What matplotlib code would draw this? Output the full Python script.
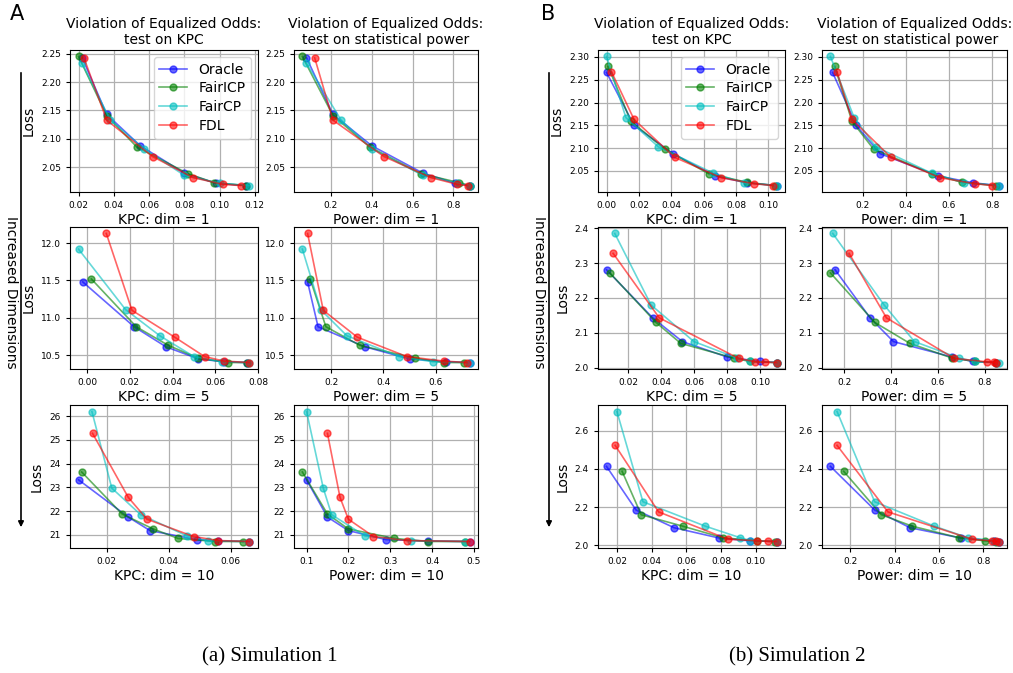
import matplotlib
matplotlib.use("Agg")
import matplotlib.pyplot as plt

METHODS = ["Oracle", "FairICP", "FairCP", "FDL"]
COLORS = {"Oracle": "b", "FairICP": "g", "FairCP": "c", "FDL": "r"}

# ---------------- Simulation 1 ----------------
S1_D1_LOSS = {"Oracle": [2.243, 2.143, 2.088, 2.040, 2.022, 2.018],
              "FairICP": [2.245, 2.141, 2.086, 2.039, 2.023, 2.018],
              "FairCP": [2.233, 2.133, 2.083, 2.036, 2.022, 2.018],
              "FDL": [2.243, 2.133, 2.069, 2.032, 2.020, 2.018]}
S1_D1_KPC = {"Oracle": [0.022, 0.036, 0.055, 0.080, 0.098, 0.115],
             "FairICP": [0.020, 0.036, 0.053, 0.082, 0.097, 0.115],
             "FairCP": [0.022, 0.038, 0.057, 0.080, 0.100, 0.117],
             "FDL": [0.023, 0.036, 0.062, 0.085, 0.102, 0.112]}
S1_D1_POW = {"Oracle": [0.08, 0.21, 0.40, 0.65, 0.81, 0.88],
             "FairICP": [0.06, 0.21, 0.39, 0.64, 0.83, 0.88],
             "FairCP": [0.08, 0.25, 0.40, 0.65, 0.82, 0.88],
             "FDL": [0.12, 0.21, 0.46, 0.69, 0.82, 0.87]}

S1_D5_LOSS = {"Oracle": [11.48, 10.88, 10.61, 10.45, 10.41, 10.40],
              "FairICP": [11.52, 10.88, 10.63, 10.46, 10.40, 10.40],
              "FairCP": [11.92, 11.11, 10.76, 10.48, 10.41, 10.40],
              "FDL": [12.13, 11.10, 10.74, 10.48, 10.42, 10.40]}
S1_D5_KPC = {"Oracle": [-0.002, 0.022, 0.037, 0.052, 0.064, 0.075],
             "FairICP": [0.002, 0.023, 0.038, 0.052, 0.066, 0.075],
             "FairCP": [-0.004, 0.018, 0.034, 0.050, 0.063, 0.076],
             "FDL": [0.009, 0.021, 0.041, 0.055, 0.064, 0.076]}
S1_D5_POW = {"Oracle": [0.11, 0.15, 0.33, 0.50, 0.64, 0.73],
             "FairICP": [0.12, 0.18, 0.31, 0.52, 0.63, 0.71],
             "FairCP": [0.09, 0.16, 0.26, 0.46, 0.59, 0.73],
             "FDL": [0.11, 0.17, 0.30, 0.49, 0.63, 0.72]}

S1_D10_LOSS = {"Oracle": [23.32, 21.75, 21.18, 20.80, 20.74, 20.72],
               "FairICP": [23.65, 21.88, 21.25, 20.85, 20.72, 20.72],
               "FairCP": [26.20, 22.97, 21.85, 20.95, 20.75, 20.72],
               "FDL": [25.28, 22.58, 21.66, 20.93, 20.76, 20.72]}
S1_D10_KPC = {"Oracle": [0.011, 0.027, 0.034, 0.049, 0.056, 0.066],
              "FairICP": [0.012, 0.025, 0.035, 0.043, 0.055, 0.064],
              "FairCP": [0.0153, 0.0217, 0.031, 0.046, 0.0525, 0.066],
              "FDL": [0.0155, 0.027, 0.033, 0.048, 0.056, 0.066]}
S1_D10_POW = {"Oracle": [0.10, 0.15, 0.20, 0.29, 0.39, 0.49],
              "FairICP": [0.09, 0.15, 0.20, 0.31, 0.39, 0.48],
              "FairCP": [0.10, 0.14, 0.16, 0.24, 0.35, 0.48],
              "FDL": [0.15, 0.18, 0.20, 0.26, 0.34, 0.49]}

# ---------------- Simulation 2 ----------------
S2_D1_LOSS = {"Oracle": [2.266, 2.150, 2.088, 2.039, 2.024, 2.018],
              "FairICP": [2.279, 2.159, 2.098, 2.044, 2.025, 2.018],
              "FairCP": [2.301, 2.167, 2.103, 2.045, 2.024, 2.018],
              "FDL": [2.268, 2.163, 2.080, 2.035, 2.022, 2.018]}
S2_D1_KPC = {"Oracle": [0.000, 0.017, 0.041, 0.067, 0.087, 0.105],
             "FairICP": [0.001, 0.015, 0.036, 0.063, 0.087, 0.104],
             "FairCP": [0.000, 0.012, 0.032, 0.066, 0.085, 0.105],
             "FDL": [0.003, 0.017, 0.042, 0.071, 0.091, 0.103]}
S2_D1_POW = {"Oracle": [0.06, 0.17, 0.28, 0.55, 0.71, 0.83],
             "FairICP": [0.07, 0.15, 0.25, 0.52, 0.66, 0.82],
             "FairCP": [0.05, 0.16, 0.26, 0.52, 0.67, 0.83],
             "FDL": [0.08, 0.15, 0.33, 0.56, 0.72, 0.80]}

S2_D5_LOSS = {"Oracle": [2.281, 2.143, 2.075, 2.031, 2.018, 2.015],
              "FairICP": [2.272, 2.130, 2.070, 2.028, 2.018, 2.015],
              "FairCP": [2.385, 2.180, 2.075, 2.028, 2.018, 2.015],
              "FDL": [2.328, 2.143, 2.027, 2.017, 2.016, 2.015]}
S2_D5_KPC = {"Oracle": [0.007, 0.035, 0.053, 0.080, 0.100, 0.110],
             "FairICP": [0.009, 0.037, 0.052, 0.084, 0.094, 0.110],
             "FairCP": [0.012, 0.034, 0.060, 0.086, 0.094, 0.110],
             "FDL": [0.011, 0.039, 0.087, 0.097, 0.103, 0.110]}
S2_D5_POW = {"Oracle": [0.16, 0.31, 0.41, 0.66, 0.75, 0.85],
             "FairICP": [0.14, 0.33, 0.48, 0.66, 0.76, 0.85],
             "FairCP": [0.15, 0.37, 0.50, 0.69, 0.76, 0.86],
             "FDL": [0.22, 0.38, 0.67, 0.81, 0.84, 0.85]}

S2_D10_LOSS = {"Oracle": [2.413, 2.185, 2.092, 2.038, 2.023, 2.020],
               "FairICP": [2.387, 2.160, 2.100, 2.040, 2.023, 2.020],
               "FairCP": [2.700, 2.228, 2.100, 2.040, 2.025, 2.020],
               "FDL": [2.523, 2.175, 2.032, 2.024, 2.021, 2.020]}
S2_D10_KPC = {"Oracle": [0.014, 0.031, 0.053, 0.079, 0.097, 0.112],
              "FairICP": [0.023, 0.034, 0.058, 0.081, 0.101, 0.111],
              "FairCP": [0.020, 0.035, 0.071, 0.091, 0.097, 0.112],
              "FDL": [0.019, 0.044, 0.084, 0.101, 0.107, 0.112]}
S2_D10_POW = {"Oracle": [0.11, 0.31, 0.47, 0.70, 0.85, 0.87],
              "FairICP": [0.17, 0.34, 0.48, 0.69, 0.81, 0.86],
              "FairCP": [0.14, 0.31, 0.58, 0.73, 0.85, 0.87],
              "FDL": [0.14, 0.37, 0.75, 0.84, 0.86, 0.87]}

DIM_LABELS = ["dim = 1", "dim = 5", "dim = 10"]
TITLES = ["Violation of Equalized Odds:\ntest on KPC",
          "Violation of Equalized Odds:\ntest on statistical power"]
CAPTIONS = ["(a) Simulation 1", "(b) Simulation 2"]
PANEL_LETTERS = ["A", "B"]

S1_XTICKS_KPC = [[0.02, 0.04, 0.06, 0.08, 0.10, 0.12], [0.00, 0.02, 0.04, 0.06, 0.08], [0.02, 0.04, 0.06]]
S1_XTICKS_POW = [[0.2, 0.4, 0.6, 0.8], [0.2, 0.4, 0.6], [0.1, 0.2, 0.3, 0.4, 0.5]]
S1_YTICKS = [[2.05, 2.10, 2.15, 2.20, 2.25], [10.5, 11.0, 11.5, 12.0], [21, 22, 23, 24, 25, 26]]
S2_XTICKS_KPC = [[0.00, 0.02, 0.04, 0.06, 0.08, 0.10], [0.02, 0.04, 0.06, 0.08, 0.10], [0.02, 0.04, 0.06, 0.08, 0.10]]
S2_XTICKS_POW = [[0.2, 0.4, 0.6, 0.8], [0.2, 0.4, 0.6, 0.8], [0.2, 0.4, 0.6, 0.8]]
S2_YTICKS = [[2.05, 2.10, 2.15, 2.20, 2.25, 2.30], [2.0, 2.1, 2.2, 2.3, 2.4], [2.0, 2.2, 2.4, 2.6]]

SIMS = [
    dict(loss=[S1_D1_LOSS, S1_D5_LOSS, S1_D10_LOSS], kpc=[S1_D1_KPC, S1_D5_KPC, S1_D10_KPC],
         pow=[S1_D1_POW, S1_D5_POW, S1_D10_POW], xk=S1_XTICKS_KPC, xp=S1_XTICKS_POW, yt=S1_YTICKS,
         yfmt=["%.2f", "%.1f", "%d"]),
    dict(loss=[S2_D1_LOSS, S2_D5_LOSS, S2_D10_LOSS], kpc=[S2_D1_KPC, S2_D5_KPC, S2_D10_KPC],
         pow=[S2_D1_POW, S2_D5_POW, S2_D10_POW], xk=S2_XTICKS_KPC, xp=S2_XTICKS_POW, yt=S2_YTICKS,
         yfmt=["%.2f", "%.1f", "%.1f"]),
]

W, H = 1013, 673
fig = plt.figure(figsize=(W / 100, H / 100), dpi=100)

COL_X = [[(70, 258), (294, 478)], [(598, 785), (822, 1007)]]
ROW_Y = [(50, 192), (227, 369), (405, 548)]
ARROW_X = [21, 549]
TEXT_X = [11, 539]
CAP_X = [270, 797]
LETTER_X = [17, 548]


def rect(x0, x1, y0, y1):
    return [x0 / W, 1 - y1 / H, (x1 - x0) / W, (y1 - y0) / H]


from matplotlib.ticker import FormatStrFormatter

for s, sim in enumerate(SIMS):
    for r in range(3):
        for c in range(2):
            x0, x1 = COL_X[s][c]
            y0, y1 = ROW_Y[r]
            ax = fig.add_axes(rect(x0, x1, y0, y1))
            xs = sim["kpc"][r] if c == 0 else sim["pow"][r]
            for m in METHODS:
                ax.plot(xs[m], sim["loss"][r][m], "-o", color=COLORS[m], alpha=0.6,
                        ms=5, lw=1.2, label=m)
            ax.grid(True, color="#b0b0b0", lw=0.9)
            ax.set_axisbelow(True)
            ax.set_xticks(sim["xk"][r] if c == 0 else sim["xp"][r])
            ax.set_yticks(sim["yt"][r])
            ax.yaxis.set_major_formatter(FormatStrFormatter(sim["yfmt"][r]))
            if c == 0:
                ax.xaxis.set_major_formatter(FormatStrFormatter("%.2f"))
            else:
                ax.xaxis.set_major_formatter(FormatStrFormatter("%.1f"))
            ax.tick_params(labelsize=6.5, length=3, width=0.8)
            ax.set_xlabel(("KPC: " if c == 0 else "Power: ") + DIM_LABELS[r], fontsize=10, labelpad=2)
            if c == 0:
                ax.set_ylabel("Loss", fontsize=10)
            if r == 0:
                ax.set_title(TITLES[c], fontsize=10, pad=4)
                if c == 0:
                    ax.legend(loc="upper right", fontsize=10, handlelength=2.0,
                              borderpad=0.4, labelspacing=0.35)
    # arrow + label
    fig.add_artist(matplotlib.patches.FancyArrowPatch(
        (ARROW_X[s] / W, 1 - 70 / H), (ARROW_X[s] / W, 1 - 530 / H),
        transform=fig.transFigure, arrowstyle="-|>", mutation_scale=8, lw=1.2, color="black"))
    fig.text(TEXT_X[s] / W, 1 - 292 / H, "Increased Dimensions", rotation=270,
             ha="center", va="center", fontsize=10)
    fig.text(LETTER_X[s] / W, 1 - 14 / H, PANEL_LETTERS[s], ha="center", va="center", fontsize=15)
    fig.text(CAP_X[s] / W, 1 - 657 / H, CAPTIONS[s], ha="center", va="center",
             fontsize=15, family="Liberation Serif")

fig.savefig("out.png", dpi=100)
